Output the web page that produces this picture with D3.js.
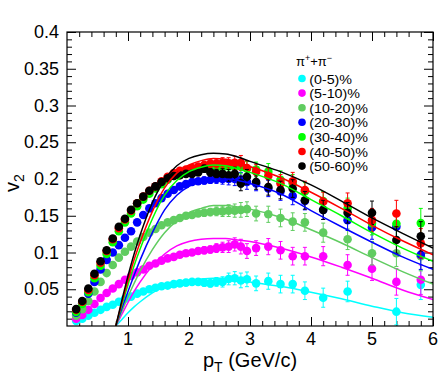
<!DOCTYPE html>
<html>
<head>
<meta charset="utf-8">
<script src="https://cdn.jsdelivr.net/npm/d3@7"></script>
<style>
  body { margin: 0; background: #fff; }
  text { font-family: "Liberation Sans", Arial, sans-serif; }
</style>
</head>
<body>
<div id="chart"></div>
<script>
// pT bin centres (GeV/c)
var ptBins = [0.15, 0.25, 0.35, 0.45, 0.55, 0.65, 0.75, 0.85, 0.95, 1.05,
  1.15, 1.25, 1.35, 1.45, 1.55, 1.65, 1.75, 1.85, 1.95, 2.05,
  2.15, 2.25, 2.35, 2.45, 2.55, 2.65, 2.75, 2.85, 2.95,
  3.1, 3.3, 3.5, 3.7, 3.9, 4.2, 4.6, 5.0, 5.4, 5.8];

// statistical errors, one per bin
var v2Err = [0.001, 0.001, 0.001, 0.001, 0.001, 0.001, 0.001, 0.001, 0.001, 0.001,
  0.001, 0.001, 0.001, 0.0015, 0.002, 0.002, 0.0025, 0.003, 0.003, 0.004,
  0.004, 0.005, 0.005, 0.006, 0.007, 0.008, 0.009, 0.010, 0.010,
  0.010, 0.011, 0.012, 0.012, 0.012, 0.013, 0.014, 0.016, 0.018, 0.020];

var v2_0_5 = [0.007, 0.010, 0.014, 0.018, 0.022, 0.026, 0.029, 0.033, 0.037, 0.040,
  0.044, 0.047, 0.050, 0.052, 0.054, 0.055, 0.057, 0.058, 0.059, 0.060,
  0.060, 0.059, 0.058, 0.060, 0.060, 0.064, 0.065, 0.062, 0.0635,
  0.058, 0.061, 0.057, 0.057, 0.048, 0.0385, 0.047, null, 0.0195, 0.056];

var v2_5_10 = [0.010, 0.015, 0.022, 0.030, 0.038, 0.045, 0.051, 0.057, 0.063, 0.068,
  0.073, 0.077, 0.082, 0.085, 0.089, 0.092, 0.094, 0.097, 0.099, 0.100,
  0.102, 0.103, 0.104, 0.106, 0.107, 0.108, 0.111, 0.108, 0.102,
  0.106, 0.108, 0.103, 0.095, 0.095, 0.095, 0.083, 0.078, 0.060, 0.063];

var v2_10_20 = [0.014, 0.023, 0.034, 0.047, 0.060, 0.072, 0.083, 0.093, 0.101, 0.108,
  0.115, 0.121, 0.127, 0.132, 0.137, 0.141, 0.144, 0.147, 0.150, 0.151,
  0.153, 0.154, 0.155, 0.156, 0.156, 0.157, 0.157, 0.158, 0.159,
  0.153, 0.152, 0.147, 0.142, 0.141, 0.127, 0.118, 0.099, 0.099, 0.095];

var v2_20_30 = [0.018, 0.031, 0.044, 0.060, 0.077, 0.090, 0.100, 0.110, 0.120, 0.129,
  0.141, 0.151, 0.160, 0.167, 0.174, 0.180, 0.185, 0.190, 0.193, 0.196,
  0.197, 0.198, 0.199, 0.200, 0.200, 0.200, 0.200, 0.199, 0.196,
  0.194, 0.187, 0.183, 0.177, 0.170, 0.158, 0.144, 0.134, 0.135, 0.097];

var v2_30_40 = [0.019, 0.030, 0.046, 0.065, 0.082, 0.098, 0.114, 0.129, 0.141, 0.153,
  0.163, 0.172, 0.180, 0.187, 0.193, 0.199, 0.204, 0.207, 0.210, 0.212,
  0.213, 0.215, 0.215, 0.216, 0.216, 0.217, 0.217, 0.217, 0.214,
  0.213, 0.210, 0.199, 0.194, 0.183, 0.170, 0.160, 0.140, 0.139, 0.140];

var v2_40_50 = [0.022, 0.033, 0.049, 0.069, 0.086, 0.102, 0.118, 0.133, 0.145, 0.157,
  0.167, 0.176, 0.184, 0.190, 0.197, 0.203, 0.208, 0.211, 0.213, 0.215,
  0.217, 0.219, 0.221, 0.221, 0.222, 0.221, 0.222, 0.222, 0.215,
  0.210, 0.204, 0.194, 0.197, 0.185, 0.169, 0.167, 0.144, 0.153, 0.1125];

var v2_50_60 = [0.023, 0.034, 0.051, 0.071, 0.088, 0.103, 0.119, 0.135, 0.146, 0.158,
  0.167, 0.176, 0.184, 0.190, 0.196, 0.201, 0.204, 0.205, 0.207, 0.207,
  0.209, 0.214, 0.209, 0.207, 0.207, 0.205, 0.207, 0.194, 0.203,
  0.196, 0.189, 0.185, 0.187, 0.171, 0.158, 0.154, 0.154, 0.117, 0.122];

// model curves
var curvePt = [0.8, 0.9, 1.0, 1.1, 1.2, 1.4, 1.6, 1.8, 2.0, 2.2,
  2.4, 2.6, 2.8, 3.0, 3.5, 4.0, 4.5, 5.0, 5.5, 6.0];
var fit_0_5 = [0, 0.009, 0.018, 0.026, 0.033, 0.045, 0.054, 0.059, 0.062, 0.064,
  0.065, 0.065, 0.063, 0.060, 0.054, 0.046, 0.037, 0.027, 0.018, 0.012];
var fit_5_10 = [0, 0.016, 0.032, 0.047, 0.060, 0.082, 0.098, 0.109, 0.115, 0.118,
  0.119, 0.119, 0.117, 0.115, 0.106, 0.094, 0.080, 0.065, 0.049, 0.036];
var fit_10_20 = [0, 0.020, 0.040, 0.058, 0.075, 0.104, 0.127, 0.143, 0.154, 0.160,
  0.164, 0.164, 0.162, 0.159, 0.148, 0.131, 0.113, 0.093, 0.074, 0.057];
var fit_20_30 = [0, 0.024, 0.047, 0.069, 0.090, 0.127, 0.158, 0.178, 0.190, 0.197,
  0.200, 0.200, 0.198, 0.194, 0.180, 0.157, 0.135, 0.114, 0.094, 0.077];
var fit_30_40 = [0, 0.029, 0.056, 0.082, 0.105, 0.146, 0.178, 0.198, 0.210, 0.216,
  0.219, 0.218, 0.214, 0.209, 0.194, 0.172, 0.150, 0.127, 0.106, 0.088];
var fit_40_50 = [0, 0.032, 0.062, 0.090, 0.114, 0.156, 0.188, 0.208, 0.219, 0.225,
  0.228, 0.227, 0.223, 0.217, 0.202, 0.182, 0.160, 0.137, 0.116, 0.097];
var fit_50_60 = [0, 0.035, 0.068, 0.098, 0.124, 0.168, 0.199, 0.218, 0.228, 0.233,
  0.235, 0.234, 0.230, 0.224, 0.210, 0.192, 0.170, 0.147, 0.126, 0.106];

var labels = ["(0-5)%", "(5-10)%", "(10-20)%", "(20-30)%", "(30-40)%", "(40-50)%", "(50-60)%"];
var colors = ["#00ffff", "#ff00ff", "#60cc60", "#0000ff", "#00ff00", "#ff0000", "#000000"];
var points = [v2_0_5, v2_5_10, v2_10_20, v2_20_30, v2_30_40, v2_40_50, v2_50_60];
var fits = [fit_0_5, fit_5_10, fit_10_20, fit_20_30, fit_30_40, fit_40_50, fit_50_60];

var yTicks = [0.05, 0.1, 0.15, 0.2, 0.25, 0.3, 0.35, 0.4];
var xTicks = [1, 2, 3, 4, 5, 6];

// chart setup
var svgWidth = 448;
var svgHeight = 383;
var margin = { top: 32, right: 15, bottom: 57, left: 67 };
var width = svgWidth - margin.left - margin.right;
var height = svgHeight - margin.top - margin.bottom;

var svg = d3.select("#chart")
  .append("svg")
  .attr("width", svgWidth)
  .attr("height", svgHeight);

var chartGroup = svg.append("g")
  .attr("transform", `translate(${margin.left}, ${margin.top})`);

chartGroup.append("clipPath").attr("id", "plotClip")
  .append("rect").attr("width", width).attr("height", height);

var xScale = d3.scaleLinear().domain([0, 6]).range([0, width]);
var yScale = d3.scaleLinear().domain([0, 0.4]).range([height, 0]);

// ticks on all four sides, pointing inwards
var xMinor = d3.range(0.2, 6, 0.2).filter(v => Math.abs(v - Math.round(v)) > 1e-6);
var yMinor = d3.range(0.01, 0.4, 0.01).filter(v => Math.abs(v * 20 - Math.round(v * 20)) > 1e-6);

function tickAxis(axisFn, scale, ticks, size, transform) {
  var g = chartGroup.append("g").attr("transform", transform)
    .call(axisFn(scale).tickValues(ticks).tickSize(size).tickFormat(""));
  g.select(".domain").remove();
  g.selectAll("line").attr("stroke", "#000").attr("stroke-width", 1);
}
tickAxis(d3.axisTop, xScale, xTicks, 9, `translate(0, ${height})`);
tickAxis(d3.axisTop, xScale, xMinor, 5, `translate(0, ${height})`);
tickAxis(d3.axisBottom, xScale, xTicks, 9, "translate(0, 0)");
tickAxis(d3.axisBottom, xScale, xMinor, 5, "translate(0, 0)");
tickAxis(d3.axisRight, yScale, yTicks, 9, "translate(0, 0)");
tickAxis(d3.axisRight, yScale, yMinor, 5, "translate(0, 0)");
tickAxis(d3.axisLeft, yScale, yTicks, 9, `translate(${width}, 0)`);
tickAxis(d3.axisLeft, yScale, yMinor, 5, `translate(${width}, 0)`);

// tick labels
chartGroup.selectAll("text.xlab")
  .data(xTicks).enter().append("text")
  .attr("class", "xlab")
  .attr("x", d => xScale(d))
  .attr("y", height + 19)
  .attr("text-anchor", "middle")
  .style("font-size", "18px")
  .text(d => d);

chartGroup.selectAll("text.ylab")
  .data(yTicks).enter().append("text")
  .attr("class", "ylab")
  .attr("x", -8)
  .attr("y", d => yScale(d) + 6)
  .attr("text-anchor", "end")
  .style("font-size", "18px")
  .text(d => d3.format("")(+d.toFixed(2)));

// data points with error bars
var plotArea = chartGroup.append("g").attr("clip-path", "url(#plotClip)");

points.forEach(function(series, i) {
  var rows = ptBins.map((pt, j) => ({ pt: pt, v2: series[j], err: v2Err[j] }))
    .filter(d => d.v2 !== null);
  var g = plotArea.append("g");
  g.selectAll("line.err").data(rows).enter().append("line")
    .attr("x1", d => xScale(d.pt)).attr("x2", d => xScale(d.pt))
    .attr("y1", d => yScale(d.v2 - d.err)).attr("y2", d => yScale(d.v2 + d.err))
    .attr("stroke", colors[i]).attr("stroke-width", 1);
  g.selectAll("path.cap").data(rows.filter(d => d.err > 0.004)).enter().append("path")
    .attr("d", d => `M${xScale(d.pt) - 2},${yScale(d.v2 + d.err)}h4M${xScale(d.pt) - 2},${yScale(d.v2 - d.err)}h4`)
    .attr("stroke", colors[i]).attr("stroke-width", 1);
  g.selectAll("circle").data(rows).enter().append("circle")
    .attr("cx", d => xScale(d.pt))
    .attr("cy", d => yScale(d.v2))
    .attr("r", 4.3)
    .attr("fill", colors[i]);
});

// model curves
var line = d3.line()
  .x(d => xScale(d[0]))
  .y(d => yScale(d[1]))
  .curve(d3.curveMonotoneX);

fits.forEach(function(fit, i) {
  plotArea.append("path")
    .datum(curvePt.map((pt, j) => [pt, fit[j]]))
    .attr("d", line)
    .attr("fill", "none")
    .attr("stroke", colors[i])
    .attr("stroke-width", 1.5);
});

// frame
chartGroup.append("rect")
  .attr("width", width).attr("height", height)
  .attr("fill", "none").attr("stroke", "#000").attr("stroke-width", 1.2);

// axis titles
var xTitle = chartGroup.append("text")
  .attr("x", width / 2)
  .attr("y", height + 41)
  .attr("text-anchor", "middle")
  .style("font-size", "20px");
xTitle.append("tspan").text("p");
xTitle.append("tspan").attr("dy", 5).style("font-size", "14px").text("T");
xTitle.append("tspan").attr("dy", -5).text(" (GeV/c)");

var yTitle = svg.append("text")
  .attr("transform", `translate(19, ${margin.top + height / 2 + 4}) rotate(-90)`)
  .attr("text-anchor", "middle")
  .style("font-size", "20px");
yTitle.append("tspan").text("v");
yTitle.append("tspan").attr("dy", 5).style("font-size", "14px").text("2");

// legend
var legend = svg.append("g").attr("transform", "translate(296, 0)");
var head = legend.append("text").attr("x", 0).attr("y", 66).style("font-size", "13px");
head.append("tspan").text("π");
head.append("tspan").attr("dy", -5).style("font-size", "9px").text("+");
head.append("tspan").attr("dy", 5).text("+π");
head.append("tspan").attr("dy", -5).style("font-size", "9px").text("−");

var entries = legend.selectAll("g.entry")
  .data(labels).enter().append("g")
  .attr("class", "entry")
  .attr("transform", (d, i) => `translate(0, ${78.5 + i * 14.6})`);
entries.append("circle")
  .attr("cx", 6).attr("cy", 0).attr("r", 3.8)
  .attr("fill", (d, i) => colors[i]);
entries.append("text")
  .attr("x", 12).attr("y", 5)
  .attr("transform", "scale(1.1, 1)")
  .style("font-size", "13px")
  .text(d => d);
</script>
</body>
</html>
